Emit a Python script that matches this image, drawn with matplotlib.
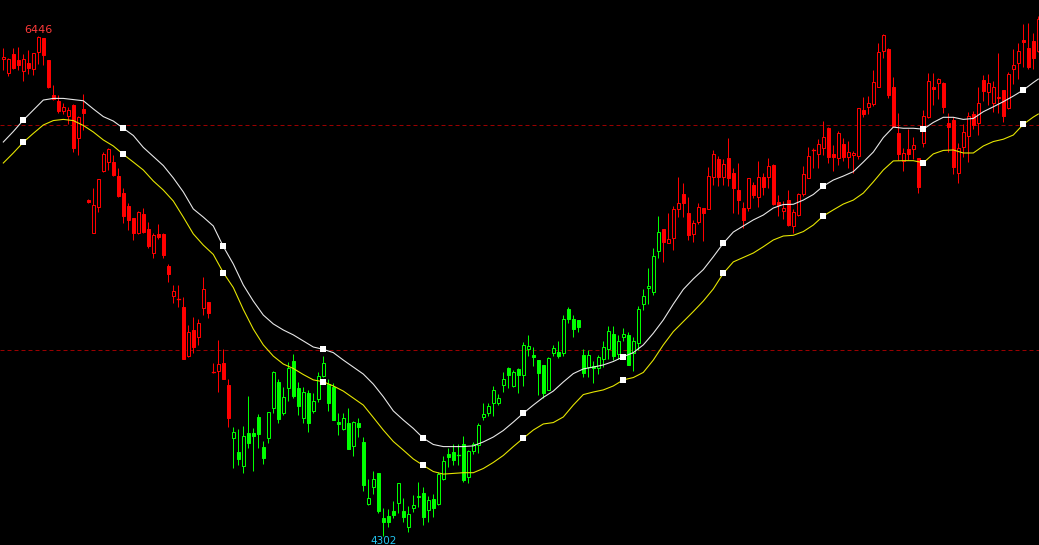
import matplotlib
matplotlib.use("Agg")
import matplotlib.pyplot as plt
from matplotlib.patches import Rectangle

# ---------------- data ----------------
opens = [6346, 6286, 6368, 6343, 6297, 6331, 6303, 6376, 6436, 6343,
         6193, 6167, 6125, 6103, 6150, 6007, 6133, 5742, 5600, 5714,
         5868, 5907, 5907, 5845, 5771, 5717, 5664, 5600, 5681, 5617,
         5516, 5597, 5597, 5459, 5332, 5318, 5285, 5075, 5185, 5154,
         5281, 5304, 5005, 5010, 5045, 4949, 4723, 4663, 4603, 4742,
         4745, 4811, 4682, 4721, 4852, 4963, 4830, 4935, 5052, 4935,
         4806, 4914, 4838, 4888, 4988, 4952, 4942, 4792, 4760, 4785,
         4688, 4785, 4703, 4438, 4510, 4570, 4380, 4387, 4409, 4442,
         4409, 4339, 4420, 4474, 4485, 4413, 4459, 4438, 4546, 4652,
         4663, 4649, 4695, 4556, 4666, 4692, 4813, 4828, 4873, 4873,
         4949, 5023, 4946, 5018, 4992, 5102, 5078, 5056, 5035, 4928,
         5085, 5089, 5088, 5274, 5232, 5228, 5078, 5028, 5031, 5021,
         5061, 5102, 5168, 5081, 5156, 5164, 5088, 5131, 5296, 5364,
         5349, 5525, 5618, 5559, 5581, 5703, 5768, 5685, 5595, 5649,
         5707, 5703, 5842, 5917, 5842, 5924, 5857, 5785, 5707, 5709,
         5807, 5757, 5840, 5842, 5892, 5735, 5697, 5742, 5632, 5678,
         5768, 5838, 5957, 5938, 5964, 6052, 5940, 5921, 5983, 5928,
         5935, 5931, 6128, 6140, 6155, 6228, 6383, 6390, 6226, 6028,
         5911, 5960, 5960, 5921, 5988, 6100, 6228, 6243, 6243, 6071,
         6085, 5857, 5971, 6017, 6110, 6074, 6257, 6207, 6160, 6178,
         6214, 6136, 6304, 6331, 6428, 6395, 6424, 6383]
highs = [6394, 6350, 6393, 6400, 6367, 6386, 6374, 6446, 6437, 6343,
         6236, 6193, 6157, 6140, 6154, 6103, 6197, 5747, 5793, 5831,
         5950, 5964, 5935, 5878, 5793, 5728, 5665, 5697, 5707, 5649,
         5600, 5640, 5602, 5468, 5378, 5378, 5328, 5206, 5239, 5231,
         5411, 5304, 5045, 5142, 5104, 4974, 4768, 4759, 4773, 4902,
         4763, 4823, 4709, 4832, 5009, 4974, 4939, 5049, 5082, 4963,
         4942, 4928, 4914, 5006, 5073, 4974, 4956, 4828, 4828, 4849,
         4796, 4806, 4725, 4545, 4580, 4570, 4420, 4416, 4452, 4528,
         4463, 4430, 4477, 4532, 4513, 4474, 4482, 4577, 4645, 4680,
         4696, 4696, 4730, 4670, 4703, 4785, 4871, 4873, 4945, 4911,
         5006, 5025, 5013, 5023, 5135, 5164, 5113, 5056, 5035, 5068,
         5121, 5138, 5249, 5282, 5249, 5228, 5102, 5099, 5052, 5078,
         5139, 5203, 5203, 5164, 5192, 5175, 5154, 5288, 5359, 5452,
         5535, 5674, 5618, 5685, 5717, 5840, 5814, 5754, 5657, 5728,
         5707, 5885, 5957, 5931, 5917, 6007, 5878, 5900, 5735, 5835,
         5821, 5910, 5857, 5924, 5897, 5764, 5739, 5785, 5703, 5771,
         5888, 5971, 5967, 6003, 6081, 6057, 5978, 6038, 6007, 5995,
         5953, 6136, 6183, 6188, 6300, 6414, 6454, 6393, 6271, 6114,
         5967, 6046, 6011, 5921, 6128, 6288, 6286, 6267, 6250, 6114,
         6100, 5986, 6067, 6121, 6124, 6226, 6278, 6281, 6254, 6374,
         6214, 6293, 6389, 6414, 6497, 6500, 6460, 6531]
lows = [6300, 6275, 6303, 6300, 6254, 6283, 6278, 6326, 6321, 6223,
        6171, 6114, 6111, 6068, 5950, 5935, 6043, 5730, 5600, 5692,
        5864, 5871, 5845, 5754, 5643, 5614, 5571, 5598, 5600, 5535,
        5492, 5574, 5492, 5392, 5302, 5285, 5061, 5070, 5088, 5121,
        5249, 5238, 5002, 4920, 4975, 4770, 4592, 4606, 4570, 4678,
        4582, 4678, 4610, 4699, 4828, 4787, 4820, 4882, 4895, 4820,
        4785, 4749, 4828, 4878, 4982, 4839, 4799, 4735, 4756, 4675,
        4645, 4725, 4496, 4435, 4482, 4399, 4302, 4342, 4378, 4399,
        4363, 4320, 4406, 4427, 4349, 4363, 4384, 4435, 4542, 4599,
        4606, 4606, 4534, 4530, 4653, 4656, 4799, 4816, 4816, 4863,
        4920, 4935, 4942, 4916, 4945, 5073, 5032, 4906, 4892, 4928,
        5073, 5066, 5073, 5214, 5154, 5178, 4985, 4985, 4956, 4996,
        5028, 5059, 5056, 5061, 5139, 5035, 5009, 5099, 5271, 5296,
        5335, 5495, 5478, 5557, 5528, 5671, 5671, 5571, 5564, 5638,
        5568, 5703, 5807, 5804, 5807, 5804, 5685, 5682, 5621, 5697,
        5752, 5711, 5764, 5793, 5721, 5674, 5660, 5631, 5600, 5674,
        5760, 5835, 5878, 5881, 5935, 5900, 5868, 5892, 5911, 5881,
        5859, 5917, 6100, 6111, 6145, 6226, 6350, 6181, 6054, 5914,
        5868, 5914, 5917, 5771, 5968, 6093, 6150, 6174, 6117, 5950,
        5854, 5817, 5928, 5907, 6046, 6021, 6168, 6150, 6121, 6117,
        6078, 6131, 6240, 6260, 6311, 6303, 6303, 6378]
closes = [6354, 6346, 6307, 6321, 6346, 6310, 6371, 6443, 6364, 6226,
          6175, 6124, 6142, 6128, 5967, 6097, 6117, 5735, 5721, 5831,
          5940, 5960, 5850, 5760, 5674, 5657, 5600, 5690, 5606, 5545,
          5592, 5585, 5507, 5425, 5352, 5318, 5061, 5175, 5113, 5214,
          5359, 5259, 5005, 5039, 4975, 4809, 4746, 4632, 4730, 4702,
          4732, 4739, 4637, 4832, 5004, 4803, 4896, 5023, 4903, 4859,
          4918, 4785, 4881, 4988, 5042, 4871, 4799, 4781, 4806, 4675,
          4789, 4770, 4520, 4463, 4545, 4409, 4363, 4360, 4392, 4528,
          4384, 4395, 4435, 4468, 4382, 4456, 4420, 4566, 4623, 4642,
          4628, 4649, 4542, 4667, 4695, 4778, 4823, 4859, 4928, 4895,
          4975, 4992, 5006, 4992, 5121, 5116, 5070, 5002, 4916, 5064,
          5109, 5073, 5231, 5232, 5188, 5199, 5002, 5078, 5021, 5068,
          5111, 5181, 5073, 5138, 5167, 5035, 5138, 5274, 5331, 5374,
          5502, 5604, 5564, 5575, 5704, 5728, 5731, 5592, 5642, 5711,
          5688, 5845, 5938, 5842, 5895, 5838, 5793, 5742, 5657, 5835,
          5764, 5840, 5799, 5888, 5725, 5721, 5707, 5635, 5690, 5768,
          5854, 5931, 5957, 5983, 6011, 5928, 5928, 6028, 5928, 5947,
          5945, 6136, 6111, 6157, 6248, 6376, 6450, 6193, 6060, 5940,
          5943, 5940, 5978, 5799, 6103, 6253, 6218, 6260, 6142, 6057,
          5883, 5964, 6033, 6104, 6064, 6157, 6210, 6243, 6226, 6183,
          6103, 6281, 6321, 6383, 6421, 6311, 6350, 6517]

# colour regime of the candles: first bar index of each segment
regime_starts = [0, 46, 132]
regime_colors = ["#ff0000", "#00ff00", "#ff0000"]

# two smooth indicator lines, sampled every second bar (+ last bar)
line_bars = list(range(0, 208, 2)) + [207]
white_line = [5991, 6036, 6085, 6128, 6171, 6178, 6178, 6173, 6168, 6133,
              6100, 6081, 6050, 6019, 5968, 5929, 5890, 5837, 5777, 5704,
              5669, 5631, 5543, 5468, 5378, 5309, 5249, 5211, 5185, 5164,
              5138, 5112, 5102, 5088, 5056, 5026, 4996, 4953, 4899, 4838,
              4799, 4763, 4721, 4694, 4685, 4685, 4685, 4688, 4705, 4726,
              4754, 4790, 4828, 4863, 4896, 4923, 4962, 4998, 5018, 5026,
              5035, 5050, 5070, 5088, 5121, 5171, 5228, 5296, 5359, 5404,
              5444, 5499, 5557, 5605, 5631, 5657, 5678, 5708, 5723, 5724,
              5742, 5766, 5802, 5828, 5845, 5864, 5905, 5948, 6010, 6055,
              6050, 6050, 6046, 6075, 6097, 6097, 6088, 6092, 6121, 6142,
              6164, 6188, 6214, 6246, 6261]
yellow_line = [5901, 5944, 5990, 6028, 6064, 6083, 6088, 6083, 6062, 6034,
               6000, 5974, 5938, 5905, 5871, 5824, 5785, 5738, 5669, 5597,
               5549, 5509, 5431, 5367, 5273, 5189, 5121, 5073, 5039, 5020,
               4994, 4971, 4963, 4945, 4923, 4893, 4863, 4810, 4756, 4707,
               4670, 4632, 4604, 4578, 4567, 4570, 4573, 4573, 4591, 4617,
               4647, 4685, 4721, 4756, 4782, 4788, 4812, 4863, 4908, 4919,
               4928, 4945, 4971, 4981, 5003, 5056, 5121, 5178, 5221, 5264,
               5309, 5361, 5428, 5477, 5496, 5515, 5542, 5571, 5588, 5591,
               5607, 5635, 5674, 5700, 5725, 5742, 5772, 5820, 5871, 5910,
               5911, 5911, 5902, 5940, 5955, 5957, 5944, 5944, 5974, 5993,
               6003, 6021, 6067, 6098, 6111]
marker_bars = [4, 24, 44, 64, 84, 104, 124, 144, 164, 184, 204]

ref_levels = [6064, 5099]
label_high = ("6446", 7)
label_low = ("4302", 76)

# ---------------- drawing ----------------
W, H, DPI = 1039, 545, 100
PX = 72.0 / DPI  # one pixel in points

fig = plt.figure(figsize=(W / DPI, H / DPI), dpi=DPI, facecolor="black")
ax = fig.add_axes([0, 0, 1, 1])
ax.set_facecolor("black")
ax.set_xlim(-0.66, 207.14)
ax.set_ylim(4263, 6600)
ax.axis("off")

for lvl in ref_levels:
    ax.axhline(lvl, color="#990000", lw=PX, ls=(0, (4, 3)), zorder=1)


def color_of(i):
    col = regime_colors[0]
    for s, c in zip(regime_starts, regime_colors):
        if i >= s:
            col = c
    return col


bw = 0.62
for i, (o, h, l, c) in enumerate(zip(opens, highs, lows, closes)):
    col = color_of(i)
    top, bot = max(o, c), min(o, c)
    if h > top:
        ax.plot([i, i], [top, h], color=col, lw=PX, solid_capstyle="butt", zorder=2)
    if l < bot:
        ax.plot([i, i], [l, bot], color=col, lw=PX, solid_capstyle="butt", zorder=2)
    if top - bot < 4:
        ax.plot([i - bw / 2, i + bw / 2], [c, c], color=col, lw=PX * 1.3, zorder=3)
    elif c > o:
        ax.add_patch(Rectangle((i - bw / 2, bot), bw, top - bot, facecolor="black",
                               edgecolor=col, lw=PX, zorder=3))
    else:
        ax.add_patch(Rectangle((i - bw / 2, bot), bw, top - bot, facecolor=col,
                               edgecolor=col, lw=PX, zorder=3))

ax.plot(line_bars, white_line, color="#e8e8e8", lw=PX * 1.1, zorder=4)
ax.plot(line_bars, yellow_line, color="#e6e600", lw=PX * 1.1, zorder=4)

wmap = dict(zip(line_bars, white_line))
ymap = dict(zip(line_bars, yellow_line))
ax.plot(marker_bars, [wmap[b] for b in marker_bars], "s", color="white", ms=4.3, mew=0, zorder=5)
ax.plot(marker_bars, [ymap[b] for b in marker_bars], "s", color="white", ms=4.3, mew=0, zorder=5)

t, b = label_high
ax.text(b, highs[b] + 6, t, color="#ff3a3a", fontsize=8, ha="center", va="bottom",
        family="DejaVu Sans", zorder=6)
t, b = label_low
ax.text(b, lows[b] - 2, t, color="#22c4f0", fontsize=7.5, ha="center", va="top",
        family="DejaVu Sans", zorder=6)

fig.savefig("out.png", dpi=DPI, facecolor="black")
